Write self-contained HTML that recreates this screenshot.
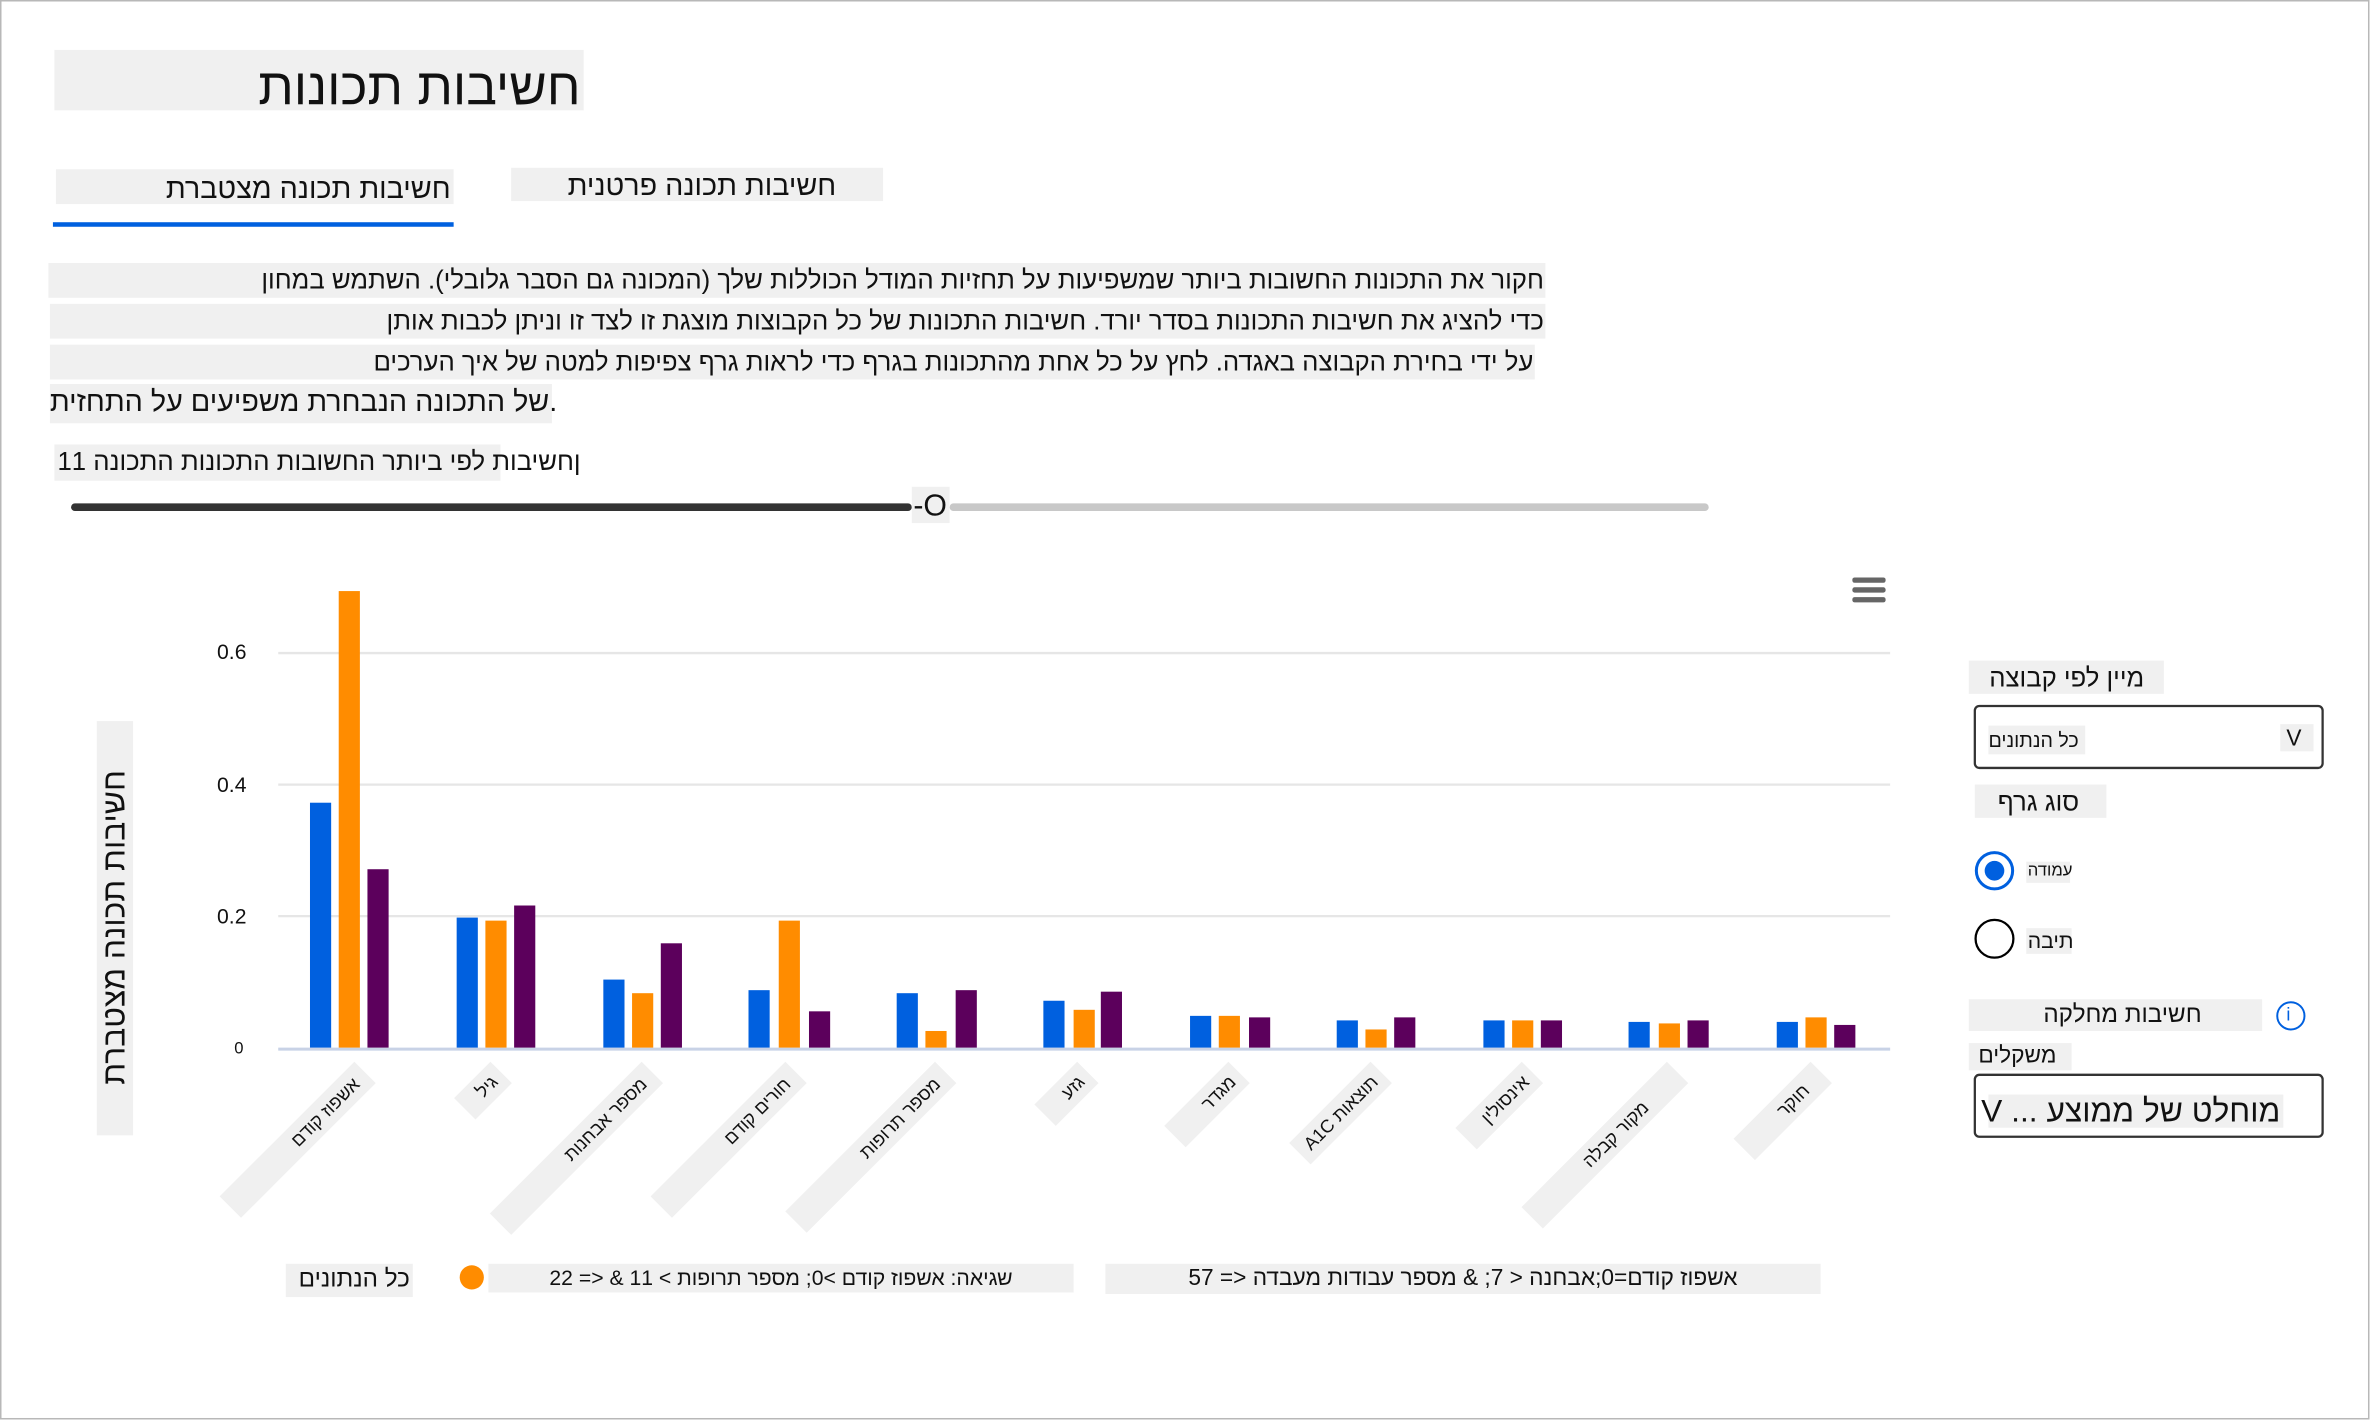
<!DOCTYPE html>
<html><head><meta charset="utf-8"><style>
html,body{margin:0;padding:0;background:#fff;overflow:hidden;}
#wrap{position:absolute;left:0;top:0;width:1568px;height:940px;transform:scale(1.51212,1.51170);transform-origin:0 0;}
svg{position:absolute;left:0;top:0;}
.t{position:absolute;white-space:nowrap;line-height:1;font-family:"Liberation Sans","DejaVu Sans",sans-serif;color:#111;direction:ltr;}
.o{unicode-bidi:bidi-override;}
.xl{position:absolute;height:20px;background:#f0f0f0;transform-origin:100% 8px;transform:rotate(-45deg);font-size:12px;line-height:20px;text-align:right;white-space:nowrap;font-family:"Liberation Sans","DejaVu Sans",sans-serif;color:#111;direction:ltr;box-sizing:border-box;}
</style></head><body>
<div id="wrap">
<svg width="1568" height="940" viewBox="0 0 1568 940" xmlns="http://www.w3.org/2000/svg">
<rect x="0.5" y="0.5" width="1566" height="938" fill="#fff" stroke="#b8b8b8" stroke-width="1"/>
<rect x="36" y="33" width="350" height="40" fill="#f0f0f0"/>
<rect x="37" y="112" width="263" height="23" fill="#f0f0f0"/>
<rect x="35" y="147" width="265" height="3" fill="#0060df"/>
<rect x="338" y="111" width="246" height="22" fill="#f0f0f0"/>
<rect x="32" y="174" width="990" height="23" fill="#f0f0f0"/>
<rect x="33" y="201" width="989" height="23" fill="#f0f0f0"/>
<rect x="33" y="228" width="982" height="23" fill="#f0f0f0"/>
<rect x="33" y="254" width="332" height="26" fill="#f0f0f0"/>
<rect x="36" y="294" width="295" height="24" fill="#f0f0f0"/>
<rect x="47" y="333" width="556" height="5" rx="2.5" fill="#333"/>
<rect x="628" y="333" width="502" height="5" rx="2.5" fill="#c8c8c8"/>
<rect x="603" y="322" width="25" height="24" fill="#f0f0f0"/>
<g stroke="#e6e6e6" stroke-width="1.5">
<line x1="184" y1="432" x2="1250" y2="432"/>
<line x1="184" y1="519" x2="1250" y2="519"/>
<line x1="184" y1="606" x2="1250" y2="606"/>
</g>
<line x1="184" y1="694" x2="1250" y2="694" stroke="#c8d2e6" stroke-width="2"/>
<g fill="#666"><rect x="1225" y="382" width="22" height="3.5" rx="1.5"/><rect x="1225" y="388.5" width="22" height="3.5" rx="1.5"/><rect x="1225" y="395" width="22" height="3.5" rx="1.5"/></g>
<rect x="64" y="477" width="24" height="274" fill="#f0f0f0"/>
<g>
<rect x="205" y="531" width="14" height="162" fill="#0060df"/><rect x="224" y="391" width="14" height="302" fill="#ff8c00"/><rect x="243" y="575" width="14" height="118" fill="#5c005c"/>
<rect x="302" y="607" width="14" height="86" fill="#0060df"/><rect x="321" y="609" width="14" height="84" fill="#ff8c00"/><rect x="340" y="599" width="14" height="94" fill="#5c005c"/>
<rect x="399" y="648" width="14" height="45" fill="#0060df"/><rect x="418" y="657" width="14" height="36" fill="#ff8c00"/><rect x="437" y="624" width="14" height="69" fill="#5c005c"/>
<rect x="495" y="655" width="14" height="38" fill="#0060df"/><rect x="515" y="609" width="14" height="84" fill="#ff8c00"/><rect x="535" y="669" width="14" height="24" fill="#5c005c"/>
<rect x="593" y="657" width="14" height="36" fill="#0060df"/><rect x="612" y="682" width="14" height="11" fill="#ff8c00"/><rect x="632" y="655" width="14" height="38" fill="#5c005c"/>
<rect x="690" y="662" width="14" height="31" fill="#0060df"/><rect x="710" y="668" width="14" height="25" fill="#ff8c00"/><rect x="728" y="656" width="14" height="37" fill="#5c005c"/>
<rect x="787" y="672" width="14" height="21" fill="#0060df"/><rect x="806" y="672" width="14" height="21" fill="#ff8c00"/><rect x="826" y="673" width="14" height="20" fill="#5c005c"/>
<rect x="884" y="675" width="14" height="18" fill="#0060df"/><rect x="903" y="681" width="14" height="12" fill="#ff8c00"/><rect x="922" y="673" width="14" height="20" fill="#5c005c"/>
<rect x="981" y="675" width="14" height="18" fill="#0060df"/><rect x="1000" y="675" width="14" height="18" fill="#ff8c00"/><rect x="1019" y="675" width="14" height="18" fill="#5c005c"/>
<rect x="1077" y="676" width="14" height="17" fill="#0060df"/><rect x="1097" y="677" width="14" height="16" fill="#ff8c00"/><rect x="1116" y="675" width="14" height="18" fill="#5c005c"/>
<rect x="1175" y="676" width="14" height="17" fill="#0060df"/><rect x="1194" y="673" width="14" height="20" fill="#ff8c00"/><rect x="1213" y="678" width="14" height="15" fill="#5c005c"/>
</g>
<rect x="189" y="836" width="84" height="22" fill="#f0f0f0"/>
<circle cx="312" cy="845" r="8" fill="#ff8c00"/>
<rect x="323" y="836" width="387" height="19" fill="#f0f0f0"/>
<rect x="731" y="836" width="473" height="20" fill="#f0f0f0"/>
<rect x="1302" y="437" width="129" height="22" fill="#f0f0f0"/>
<rect x="1306" y="467" width="230" height="41" rx="3" fill="#fff" stroke="#333" stroke-width="1.5"/>
<rect x="1315" y="480" width="64" height="19" fill="#f0f0f0"/>
<rect x="1508" y="479" width="22" height="18" fill="#f0f0f0"/>
<rect x="1306" y="519" width="87" height="22" fill="#f0f0f0"/>
<circle cx="1319" cy="576" r="12" fill="#fff" stroke="#0060df" stroke-width="2"/>
<circle cx="1319" cy="576" r="6.5" fill="#0060df"/>
<rect x="1340" y="570" width="29" height="14" fill="#f0f0f0"/>
<circle cx="1319" cy="621" r="12.5" fill="#fff" stroke="#000" stroke-width="1.5"/>
<rect x="1340" y="614" width="30" height="17" fill="#f0f0f0"/>
<rect x="1302" y="661" width="194" height="21" fill="#f0f0f0"/>
<circle cx="1515" cy="672" r="9" fill="#fff" stroke="#0060df" stroke-width="1.3"/>
<rect x="1302" y="690" width="68" height="18" fill="#f0f0f0"/>
<rect x="1306" y="711" width="230" height="41" rx="3" fill="#fff" stroke="#333" stroke-width="1.5"/>
<rect x="1315" y="724" width="195" height="22" fill="#f0f0f0"/>
</svg>

<div class="t" style="right:1184px;top:41px;font-size:34px">חשיבות תכונות</div>
<div class="t" style="right:1270px;top:116px;font-size:19px">חשיבות תכונה מצטברת</div>
<div class="t" style="right:1015px;top:114px;font-size:19px">חשיבות תכונה פרטנית</div>
<div class="t" style="right:547px;top:177px;font-size:17px">חקור את התכונות החשובות ביותר שמשפיעות על תחזיות המודל הכוללות שלך (המכונה גם הסבר גלובלי). השתמש במחון</div>
<div class="t" style="right:547px;top:204px;font-size:17px">כדי להציג את חשיבות התכונות בסדר יורד. חשיבות התכונות של כל הקבוצות מוצגת זו לצד זו וניתן לכבות אותן</div>
<div class="t" style="right:554px;top:231px;font-size:17px">על ידי בחירת הקבוצה באגדה. לחץ על כל אחת מהתכונות בגרף כדי לראות גרף צפיפות למטה של איך הערכים</div>
<div class="t" style="left:33px;top:257px;font-size:19px">של התכונה הנבחרת משפיעים על התחזית.</div>
<div class="t" style="left:38px;top:297px;font-size:17px">11 ןחשיבות לפי ביותר החשובות התכונות התכונה</div>
<div class="t" style="left:604px;top:325px;font-size:20px">-O</div>

<div class="t" style="right:1405px;top:424px;font-size:14px">0.6</div>
<div class="t" style="right:1405px;top:512px;font-size:14px">0.4</div>
<div class="t" style="right:1405px;top:599px;font-size:14px">0.2</div>
<div class="t" style="right:1407px;top:689px;font-size:11px">0</div>
<div class="t" style="left:-74px;top:603px;width:300px;text-align:center;font-size:21px;transform:rotate(-90deg)">חשיבות תכונה מצטברת</div>

<div class="xl" style="left:114px;top:700px;width:126px;padding-right:8px">אשפוז קודם</div>
<div class="xl" style="left:296px;top:700px;width:34px;padding-right:6px">גיל</div>
<div class="xl" style="left:288px;top:700px;width:142px;padding-right:8px">מספר אבחנות</div>
<div class="xl" style="left:399px;top:700px;width:126px;padding-right:8px">חורים קודם</div>
<div class="xl" style="left:484px;top:700px;width:140px;padding-right:8px">מספר תרופות</div>
<div class="xl" style="left:678px;top:700px;width:40px;padding-right:6px">גזע</div>
<div class="xl" style="left:758px;top:700px;width:60px;padding-right:6px">מגדר</div>
<div class="xl" style="left:836px;top:700px;width:76px;padding-right:6px">A1C תוצאות</div>
<div class="xl" style="left:950px;top:700px;width:62px;padding-right:6px">אינסולין</div>
<div class="xl" style="left:972px;top:700px;width:136px;padding-right:30px">מקור קבלה</div>
<div class="xl" style="left:1131px;top:700px;width:72px;padding-right:14px">חוקר</div>

<div class="t" style="right:1297px;top:839px;font-size:16px">כל הנתונים</div>
<div class="t" style="left:323px;width:387px;text-align:center;top:838px;font-size:14px">שגיאה: אשפוז קודם &gt;0; מספר תרופות &gt; 11 &amp; &lt;= 22</div>
<div class="t" style="left:731px;width:473px;text-align:center;top:838px;font-size:15px">אשפוז קודם=0;אבחנה &lt; 7; &amp; מספר עבודות מעבדה &lt;= 57</div>

<div class="t" style="right:150px;top:440px;font-size:17px">מיין לפי קבוצה</div>
<div class="t" style="left:1315px;top:483px;font-size:13px">כל הנתונים</div>
<div class="t" style="left:1512px;top:481px;font-size:15px">V</div>
<div class="t" style="right:193px;top:522px;font-size:17px">סוג גרף</div>
<div class="t" style="left:1341px;top:571px;font-size:11px">עמודה</div>
<div class="t" style="left:1341px;top:615px;font-size:14px">תיבה</div>
<div class="t" style="right:112px;top:664px;font-size:16px">חשיבות מחלקה</div>
<div class="t" style="left:1512px;top:665px;font-size:12px;color:#0060df">i</div>
<div class="t" style="right:208px;top:691px;font-size:15px">משקלים</div>
<div class="t" style="right:60px;top:725px;font-size:21px">V ... מוחלט של ממוצע</div>
</div>
</body></html>
